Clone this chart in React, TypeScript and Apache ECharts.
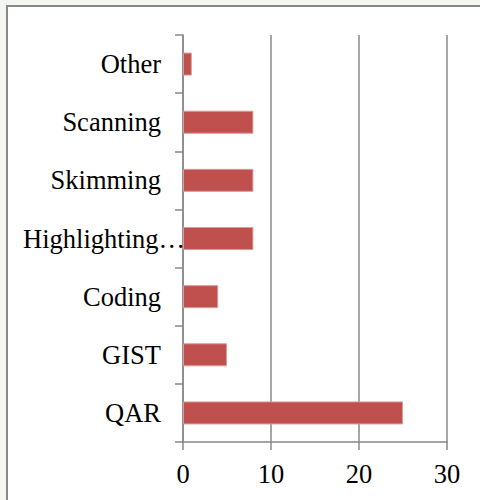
import React, { useEffect, useRef } from "react";
import * as echarts from "echarts";

const categories = ["QAR", "GIST", "Coding", "Highlighting…", "Skimming", "Scanning", "Other"];
const values = [25, 5, 4, 8, 8, 8, 1];
const xTicks = [0, 10, 20, 30];

export default function App() {
  const ref = useRef<HTMLDivElement>(null);
  useEffect(() => {
    const chart = echarts.init(ref.current!, null, { renderer: "svg" });
    const font = "'Liberation Serif', 'Times New Roman', serif";
    chart.setOption({
      animation: false,
      backgroundColor: "#f3f6f1",
      graphic: [
        {
          type: "rect",
          z: -10,
          shape: { x: 7, y: 6, width: 490, height: 510 },
          style: { fill: "#ffffff", stroke: "#888888", lineWidth: 2 },
          silent: true,
        },
      ],
      grid: { left: 183, right: 33, top: 35, bottom: 58, containLabel: false },
      xAxis: {
        type: "value",
        min: xTicks[0],
        max: xTicks[xTicks.length - 1],
        interval: 10,
        axisLine: { show: true, lineStyle: { color: "#888888", width: 1.5 } },
        axisTick: { show: true, length: 8, lineStyle: { color: "#888888", width: 1.5 } },
        splitLine: { show: true, lineStyle: { color: "#888888", width: 1.5 } },
        axisLabel: { color: "#000", fontSize: 26.5, fontFamily: font, margin: 18 },
      },
      yAxis: {
        type: "category",
        data: categories,
        axisLine: { show: true, lineStyle: { color: "#888888", width: 1.5 } },
        axisTick: { show: true, length: 8, alignWithLabel: false, lineStyle: { color: "#888888", width: 1.5 } },
        axisLabel: {
          color: "#000",
          fontSize: 26.5,
          fontFamily: font,
          margin: 22,
          formatter: (v: string) => (v.endsWith("…") ? "{h|" + v + "}" : v),
          rich: {
            h: { fontSize: 26.5, fontFamily: font, color: "#000", padding: [0, -24, 0, 0] },
          },
        },
      },
      series: [
        {
          type: "bar",
          data: values,
          barWidth: 23,
          itemStyle: { color: "#C0504D", borderColor: "#dc9a98", borderWidth: 1 },
        },
      ],
    });
    return () => chart.dispose();
  }, []);
  return (
    <div
      ref={ref}
      style={{ position: "fixed", left: 0, top: 0, width: 480, height: 500 }}
    />
  );
}
